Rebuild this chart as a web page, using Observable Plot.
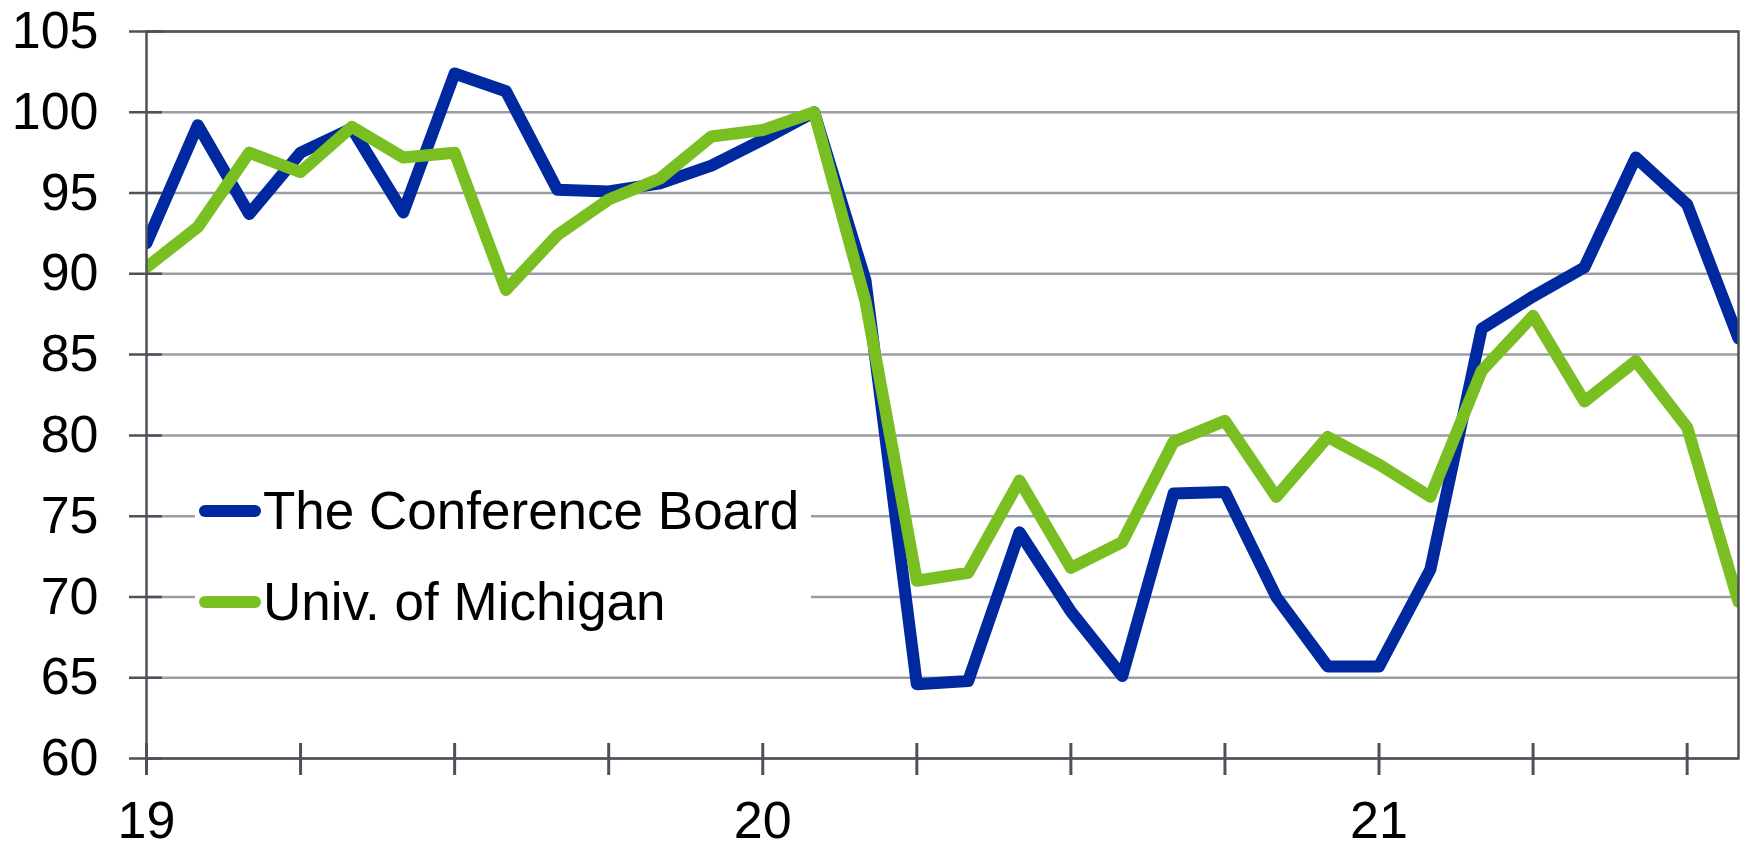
<!DOCTYPE html>
<html>
<head>
<meta charset="utf-8">
<script src="https://cdn.jsdelivr.net/npm/d3@7"></script>
<script src="https://cdn.jsdelivr.net/npm/@observablehq/plot@0.6"></script>
<style>
  html, body { margin: 0; padding: 0; background: #fff; }
  #wrap { position: relative; width: 1745px; height: 845px; font-family: "Liberation Sans", Arial, sans-serif; }
  #legend { position: absolute; left: 195px; top: 465px; width: 616px; background: #fff; }
  .row { display: flex; align-items: center; height: 91px; }
  .sw { width: 62px; height: 12px; border-radius: 6px; margin-left: 4px; margin-right: 2px; }
  .lab { font-size: 53px; color: #000; line-height: 1; white-space: nowrap; }
</style>
</head>
<body>
<div id="wrap"></div>
<script>
const months = ["2019-01","2019-02","2019-03","2019-04","2019-05","2019-06","2019-07","2019-08","2019-09","2019-10","2019-11","2019-12",
                "2020-01","2020-02","2020-03","2020-04","2020-05","2020-06","2020-07","2020-08","2020-09","2020-10","2020-11","2020-12",
                "2021-01","2021-02","2021-03","2021-04","2021-05","2021-06","2021-07","2021-08"];
const conferenceBoard = [91.9, 99.2, 93.7, 97.5, 99.0, 93.8, 102.4, 101.3, 95.2, 95.1, 95.6, 96.7,
                         98.3, 100.0, 89.6, 64.6, 64.8, 74.0, 69.1, 65.1, 76.4, 76.5, 70.0, 65.7,
                         65.7, 71.7, 86.6, 88.6, 90.4, 97.2, 94.3, 86.0];
const michigan = [90.4, 92.9, 97.5, 96.3, 99.1, 97.2, 97.5, 89.0, 92.4, 94.6, 95.9, 98.5,
                  98.9, 100.0, 88.3, 71.0, 71.5, 77.2, 71.8, 73.4, 79.6, 80.9, 76.2, 79.9,
                  78.2, 76.2, 84.0, 87.4, 82.1, 84.6, 80.5, 69.7];
const seriesNames = ["The Conference Board", "Univ. of Michigan"];
const seriesColors = ["#0029a0", "#79bf21"];
const yTicks = [60, 65, 70, 75, 80, 85, 90, 95, 100, 105];
const xTickIdx = [0, 3, 6, 9, 12, 15, 18, 21, 24, 27, 30];
const xLabelIdx = [0, 12, 24];
const xLabels = ["19", "20", "21"];

const cbData = months.map((m, i) => ({i, v: conferenceBoard[i]}));
const umData = months.map((m, i) => ({i, v: michigan[i]}));
const axisColor = "#4d5258";

const W = 1745, H = 845, ML = 146, MR = 7, MT = 31, MB = 87;
const innerW = W - ML - MR, innerH = H - MT - MB;

const chart = Plot.plot({
  width: W,
  height: H,
  marginLeft: ML,
  marginRight: MR,
  marginTop: MT,
  marginBottom: MB,
  style: {background: "#fff", fontFamily: "'Liberation Sans', Arial, sans-serif", fontSize: "52px", color: "#000", overflow: "visible"},
  x: {type: "linear", domain: [0, months.length - 1], ticks: xLabelIdx, tickSize: 0, tickPadding: 43,
      tickFormat: d => xLabels[xLabelIdx.indexOf(d)], label: null},
  y: {domain: [60, 105], ticks: yTicks, tickSize: 0, tickPadding: 48, label: null},
  marks: [
    Plot.ruleY(yTicks, {stroke: "#9a9da1", strokeWidth: 2.5}),
    Plot.line(cbData, {x: "i", y: "v", stroke: seriesColors[0], strokeWidth: 12, strokeLinejoin: "round", strokeLinecap: "round", clip: true}),
    Plot.line(umData, {x: "i", y: "v", stroke: seriesColors[1], strokeWidth: 12, strokeLinejoin: "round", strokeLinecap: "round", clip: true}),
    Plot.frame({stroke: axisColor, strokeWidth: 2.5}),
    Plot.tickY(yTicks, {y: d => d, stroke: axisColor, strokeWidth: 2.5, insetLeft: -17, insetRight: innerW - 16}),
    Plot.tickX(xTickIdx, {x: d => d, stroke: axisColor, strokeWidth: 3, insetTop: innerH - 15, insetBottom: -17})
  ]
});

d3.select(chart).selectAll("text").attr("font-size", 52).attr("fill", "#000");

const wrap = document.getElementById("wrap");
wrap.appendChild(chart);
const legend = document.createElement("div");
legend.id = "legend";
seriesNames.forEach((name, k) => {
  const row = document.createElement("div");
  row.className = "row";
  const sw = document.createElement("div");
  sw.className = "sw";
  sw.style.background = seriesColors[k];
  const lab = document.createElement("span");
  lab.className = "lab";
  lab.textContent = name;
  row.appendChild(sw);
  row.appendChild(lab);
  legend.appendChild(row);
});
wrap.appendChild(legend);
</script>
</body>
</html>
